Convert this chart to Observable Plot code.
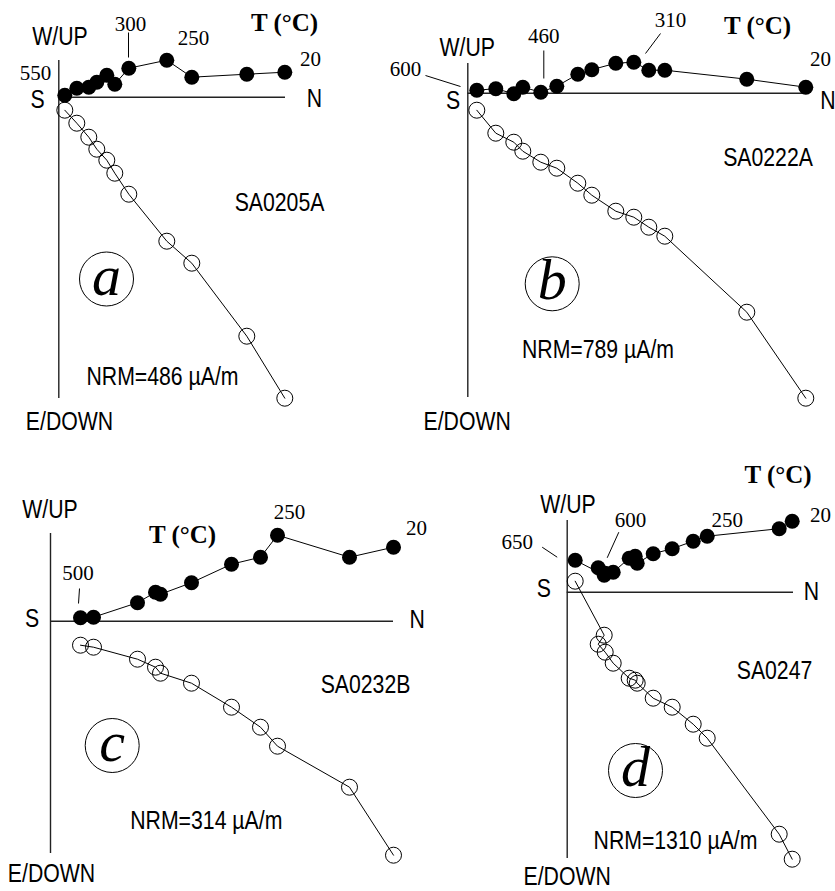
<!DOCTYPE html>
<html><head><meta charset="utf-8">
<script src="https://cdn.jsdelivr.net/npm/d3@7"></script>
<script src="https://cdn.jsdelivr.net/npm/@observablehq/plot@0.6"></script>
<style>
html,body{margin:0;padding:0;background:#fff;}
#fig{position:relative;width:835px;height:891px;overflow:hidden;background:#fff;}
#fig svg{position:absolute;overflow:visible;background:none;}
</style></head><body><div id="fig"></div>
<script>
// ---------- DATA (arbitrary units; heating order 20 °C first) ----------
const panelLetters = ["a", "b", "c", "d"];
const sampleIds = ["SA0205A", "SA0222A", "SA0232B", "SA0247"];
const nrmValues = [486, 789, 314, 1310];
const tempHeader = "T (°C)";

// Panel a
const aNorth = [226, 188, 133, 108, 70, 56, 48, 38, 30, 18, 6];
const aWest  = [25, 23, 20, 37, 29, 13, 22, 15, 10, 9, 2];
const aDown  = [301, 239, 166, 144, 97, 76, 63, 52, 40, 26, 13];
const aTempLabels = ["550", "300", "250", "20"];

// Panel b
const bNorth = [338, 279, 197, 181, 166, 148, 124, 110, 89, 73, 55, 46, 28, 9];
const bWest  = [6, 14, 23, 23, 31, 30, 23.5, 19, 7, 1, 6, -0.5, 4.5, 3];
const bDown  = [305, 219, 143, 134, 124, 118, 102, 90, 75, 69, 58, 49, 40, 17];
const bTempLabels = ["600", "460", "310", "20"];

// Panel c
const cNorth = [343, 299, 227, 210, 181, 141, 110, 105, 87, 43, 30];
const cWest  = [74, 64, 86, 64, 57, 38.5, 27, 29, 18.5, 4, 3.5];
const cDown  = [234, 166, 125, 106, 86, 62, 52, 46, 38, 26, 24];
const cTempLabels = ["250", "20", "500"];

// Panel d
const dNorth = [225, 212, 140, 126, 105, 86, 70, 68, 62, 46, 38, 31, 37, 8];
const dWest  = [71, 63.5, 56, 51, 43.5, 38.5, 29, 36, 34, 20, 19, 24.5, 17, 32];
const dDown  = [267, 242, 146, 132, 115, 106, 91, 88, 86, 71, 60, 52, 43, -11];
const dTempLabels = ["650", "600", "250", "20"];

// ---------- LAYOUT ----------
const SANS = "'Liberation Sans Narrow','Liberation Sans',Arial,sans-serif";
const SERIF = "'Liberation Serif','Times New Roman',serif";
const SANS_SQUEEZE = 0.85;

const layouts = [
  { left: 0, top: 0, w: 418, h: 445, ox: 58.3, oy: 96.7, vTop: 36.7, vBottom: -301.3, hRight: 226.7,
    wup: [1.2, 60.7], edown: [10.7, -324.3], s: [-21.3, -2.3], n: [255.7, -1.3],
    id: [220.7, -105.3], circle: [47.7, -181.8], nrm: [103.7, -279.3], header: [225.7, 74.7],
    temps: [[-23.3, 23.5], [71.7, 72.7], [134.7, 58.7], [251.7, 37.7]],
    leaders: [[69.7, 64.7, 69.7, 39.7]] },
  { left: 418, top: 0, w: 417, h: 445, ox: 467.3, oy: 92.7, vTop: 29.7, vBottom: -304.3, hRight: 337.7,
    wup: [-0.6, 45.7], edown: [-0.6, -328.3], s: [-14.8, -7.3], n: [360, -7.3],
    id: [300.2, -64.3], circle: [84.4, -190.6], nrm: [130.2, -256.3], header: [289.7, 67.7],
    temps: [[-62.3, 23.7], [76, 56.7], [202.7, 72.7], [352.7, 33.7]],
    leaders: [[-42.3, 17.7, -7.3, 6.7], [76, 42.7, 76, 14.7], [192.7, 59.7, 177.7, 39.7]] },
  { left: 0, top: 445, w: 418, h: 446, ox: 50, oy: 620.7, vTop: 87.7, vBottom: -232.3, hRight: 343,
    wup: [-0.5, 111.7], edown: [1, -252.3], s: [-18.3, 2.7], n: [366.7, 1.7],
    id: [315, -63.3], circle: [61.7, -124.3], nrm: [155.8, -199.3], header: [132, 86.7],
    temps: [[239, 108.7], [366, 92.7], [27.5, 47.7]],
    leaders: [[29, 32.7, 28, 17.7]] },
  { left: 418, top: 445, w: 417, h: 446, ox: 566.7, oy: 591.7, vTop: 71.7, vBottom: -266.3, hRight: 226.3,
    wup: [0.8, 87.7], edown: [0, -284.3], s: [-23.4, 3.7], n: [244.1, 0],
    id: [207.3, -78.3], circle: [68.3, -178.3], nrm: [108.3, -248.3], header: [210.8, 117.7],
    temps: [[-50, 50], [63.3, 72.2], [160, 72.2], [253.3, 76.7]],
    leaders: [[-25, 45, -10, 35], [51.6, 60, 40, 34.4]] }
];

const series = [
  [aNorth, aWest, aDown, aTempLabels],
  [bNorth, bWest, bDown, bTempLabels],
  [cNorth, cWest, cDown, cTempLabels],
  [dNorth, dWest, dDown, dTempLabels]
];

const fig = document.getElementById("fig");

series.forEach(([north, west, down, temps], i) => {
  const L = layouts[i];
  const ox = L.ox - L.left, oy = L.oy - L.top;
  const steps = north.map((n, k) => ({ n, w: west[k], up: -down[k] }));
  const sansText = [
    { x: L.wup[0], y: L.wup[1], t: "W/UP" },
    { x: L.edown[0], y: L.edown[1], t: "E/DOWN" },
    { x: L.s[0], y: L.s[1], t: "S" },
    { x: L.n[0], y: L.n[1], t: "N" },
    { x: L.id[0], y: L.id[1], t: sampleIds[i] },
    { x: L.nrm[0], y: L.nrm[1], t: `NRM=${nrmValues[i]} µA/m` }
  ];
  const tempText = temps.map((t, k) => ({ x: L.temps[k][0], y: L.temps[k][1], t }));
  const leaders = L.leaders.map(([x1, y1, x2, y2]) => ({ x1, y1, x2, y2 }));

  const svg = Plot.plot({
    width: L.w, height: L.h, margin: 0,
    style: { background: "none", overflow: "visible" },
    x: { axis: null, domain: [-ox, L.w - ox] },
    y: { axis: null, domain: [-(L.h - oy), oy] },
    marks: [
      Plot.ruleX([0], { y1: L.vBottom, y2: L.vTop, stroke: "#222", strokeWidth: 1.4 }),
      Plot.ruleY([0], { x1: 0, x2: L.hRight, stroke: "#222", strokeWidth: 1.4 }),
      Plot.line(steps, { x: "n", y: "up", stroke: "black", strokeWidth: 1 }),
      Plot.line(steps, { x: "n", y: "w", stroke: "black", strokeWidth: 1 }),
      Plot.dot(steps, { x: "n", y: "up", r: 8, stroke: "black", fill: "none", strokeWidth: 1 }),
      Plot.dot(steps, { x: "n", y: "w", r: 7.5, fill: "black", stroke: "none" }),
      Plot.link(leaders, { x1: "x1", y1: "y1", x2: "x2", y2: "y2", stroke: "black", strokeWidth: 1 }),
      Plot.text(sansText, { x: "x", y: "y", text: "t", fontFamily: SANS, fontSize: 25,
        textAnchor: "middle", lineAnchor: "middle", fill: "black" }),
      Plot.text(tempText, { x: "x", y: "y", text: "t", fontFamily: SERIF, fontSize: 21,
        textAnchor: "middle", lineAnchor: "middle", fill: "black" }),
      Plot.text([{ x: L.header[0], y: L.header[1], t: tempHeader }], { x: "x", y: "y", text: "t",
        fontFamily: SERIF, fontSize: 25, fontWeight: "bold", textAnchor: "middle", lineAnchor: "middle", fill: "black" }),
      Plot.dot([{ x: L.circle[0], y: L.circle[1] }], { x: "x", y: "y", r: 27, stroke: "black", fill: "none", strokeWidth: 1 }),
      Plot.text([{ x: L.circle[0], y: L.circle[1], t: panelLetters[i] }], { x: "x", y: "y", text: "t",
        fontFamily: SERIF, fontSize: 58, fontStyle: "italic", textAnchor: "middle", lineAnchor: "middle", fill: "black", dy: -3 })
    ]
  });
  svg.style.left = L.left + "px";
  svg.style.top = L.top + "px";
  // condense the sans-serif labels horizontally (the original uses a narrow face)
  svg.querySelectorAll("g[font-family*='Narrow'] text").forEach((el) => {
    const tr = el.getAttribute("transform");
    if (tr) {
      el.setAttribute("transform", tr + ` scale(${SANS_SQUEEZE},1)`);
    } else {
      const x = +el.getAttribute("x") || 0, y = +el.getAttribute("y") || 0;
      el.setAttribute("x", 0); el.setAttribute("y", 0);
      el.setAttribute("transform", `translate(${x},${y}) scale(${SANS_SQUEEZE},1)`);
    }
  });
  fig.appendChild(svg);
});
</script></body></html>
